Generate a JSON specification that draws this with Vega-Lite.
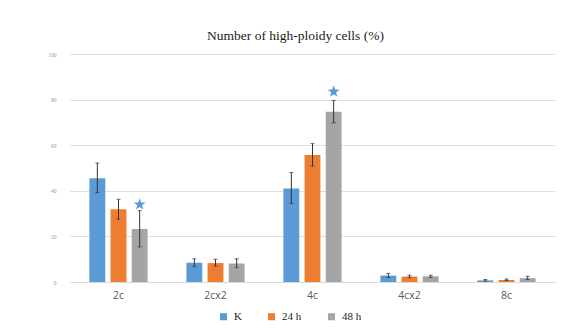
{
  "$schema": "https://vega.github.io/schema/vega-lite/v6.json",
  "autosize": {"type": "none"},
  "padding": {"left": 70, "top": 54, "right": 14, "bottom": 54},
  "width": 485,
  "height": 228,
  "background": "white",
  "title": {
    "text": "Number of high-ploidy cells (%)",
    "font": "Liberation Serif",
    "fontSize": 13.5,
    "fontWeight": "normal",
    "color": "#222222",
    "anchor": "middle",
    "dx": -17,
    "offset": 10
  },
  "data": {
    "values": [
      {"cat": "2c", "grp": "K", "value": 45.5, "lo": 39.2, "hi": 52.2, "star": null},
      {"cat": "2c", "grp": "24 h", "value": 31.9, "lo": 27.5, "hi": 36.3, "star": null},
      {"cat": "2c", "grp": "48 h", "value": 23.3, "lo": 15.4, "hi": 31.3, "star": 34},
      {"cat": "2cx2", "grp": "K", "value": 8.4, "lo": 6.7, "hi": 10.2, "star": null},
      {"cat": "2cx2", "grp": "24 h", "value": 8.3, "lo": 7.0, "hi": 10.0, "star": null},
      {"cat": "2cx2", "grp": "48 h", "value": 8.1, "lo": 6.3, "hi": 10.2, "star": null},
      {"cat": "4c", "grp": "K", "value": 41.0, "lo": 34.5, "hi": 48.0, "star": null},
      {"cat": "4c", "grp": "24 h", "value": 55.7, "lo": 50.8, "hi": 60.7, "star": null},
      {"cat": "4c", "grp": "48 h", "value": 74.7, "lo": 69.8, "hi": 79.6, "star": 83.5},
      {"cat": "4cx2", "grp": "K", "value": 2.8, "lo": 2.0, "hi": 3.8, "star": null},
      {"cat": "4cx2", "grp": "24 h", "value": 2.4, "lo": 1.9, "hi": 3.0, "star": null},
      {"cat": "4cx2", "grp": "48 h", "value": 2.5, "lo": 2.0, "hi": 3.0, "star": null},
      {"cat": "8c", "grp": "K", "value": 0.7, "lo": 0.4, "hi": 1.1, "star": null},
      {"cat": "8c", "grp": "24 h", "value": 0.9, "lo": 0.6, "hi": 1.3, "star": null},
      {"cat": "8c", "grp": "48 h", "value": 1.7, "lo": 1.1, "hi": 2.5, "star": null}
    ]
  },
  "encoding": {
    "x": {
      "field": "cat",
      "type": "nominal",
      "sort": ["2c", "2cx2", "4c", "4cx2", "8c"],
      "scale": {"paddingInner": 0.4, "paddingOuter": 0.2},
      "axis": {
        "title": null,
        "labelAngle": 0,
        "labelFont": "Open Sans",
        "labelFontSize": 10.5,
        "labelColor": "#595959",
        "labelPadding": 8,
        "ticks": false,
        "domain": true,
        "domainColor": "#d9d9d9",
        "grid": false
      }
    },
    "xOffset": {
      "field": "grp",
      "type": "nominal",
      "sort": ["K", "24 h", "48 h"],
      "scale": {"paddingInner": 0.25, "paddingOuter": 0}
    }
  },
  "layer": [
    {
      "mark": {"type": "bar"},
      "encoding": {
        "y": {
          "field": "value",
          "type": "quantitative",
          "scale": {"domain": [0, 100]},
          "axis": {
            "title": null,
            "values": [0, 20, 40, 60, 80, 100],
            "labelFont": "Liberation Serif",
            "labelFontSize": 5.5,
            "labelColor": "#999999",
            "labelPadding": 14,
            "ticks": false,
            "domain": false,
            "grid": true,
            "gridColor": "#dedede",
            "gridWidth": 1
          }
        },
        "color": {
          "field": "grp",
          "type": "nominal",
          "sort": ["K", "24 h", "48 h"],
          "scale": {"domain": ["K", "24 h", "48 h"], "range": ["#5b9bd5", "#ed7d31", "#a5a5a5"]},
          "legend": {
            "title": null,
            "orient": "none",
            "direction": "horizontal",
            "legendX": 148,
            "legendY": 257,
            "symbolType": "square",
            "symbolSize": 50,
            "symbolStrokeWidth": 0,
            "labelFont": "Liberation Serif",
            "labelFontSize": 11,
            "labelColor": "#222222",
            "columnPadding": 24,
            "labelOffset": 5
          }
        }
      }
    },
    {
      "mark": {"type": "rule", "color": "#333333", "strokeWidth": 1},
      "encoding": {
        "y": {"field": "lo", "type": "quantitative"},
        "y2": {"field": "hi"}
      }
    },
    {
      "mark": {"type": "tick", "color": "#333333", "thickness": 1, "size": 4},
      "encoding": {
        "y": {"field": "lo", "type": "quantitative"}
      }
    },
    {
      "mark": {"type": "tick", "color": "#333333", "thickness": 1, "size": 4},
      "encoding": {
        "y": {"field": "hi", "type": "quantitative"}
      }
    },
    {
      "mark": {
        "type": "point",
        "filled": true,
        "color": "#5b9bd5",
        "opacity": 1,
        "size": 160,
        "shape": "M0,-1L0.235,-0.324L0.951,-0.309L0.38,0.124L0.588,0.809L0,0.4L-0.588,0.809L-0.38,0.124L-0.951,-0.309L-0.235,-0.324Z"
      },
      "encoding": {
        "y": {"field": "star", "type": "quantitative"}
      }
    }
  ],
  "config": {
    "view": {"stroke": null}
  }
}
